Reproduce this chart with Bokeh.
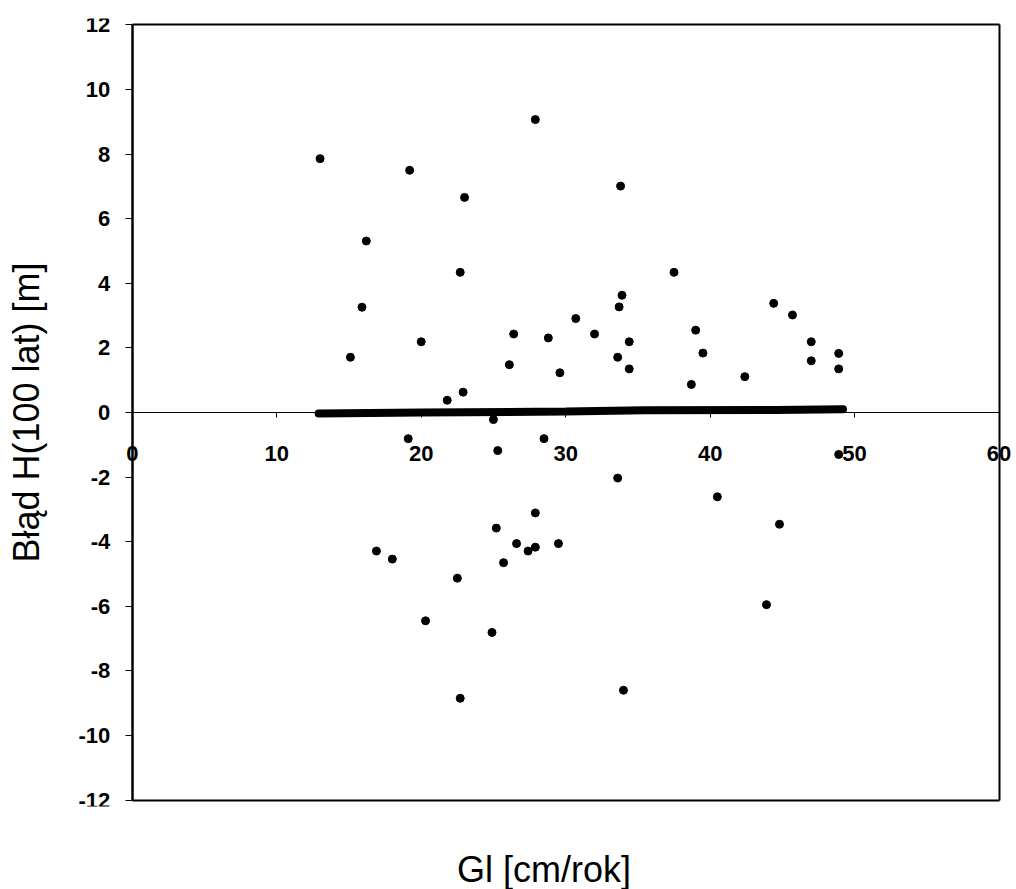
from bokeh.plotting import figure
from bokeh.models import LinearAxis, Range1d, FixedTicker
from bokeh.embed import file_html
from bokeh.resources import INLINE

# Scattered errors
gl = [13.0, 19.2, 27.9, 23.0, 33.8, 16.2, 22.7, 15.9, 33.9, 33.7, 30.7, 20.0,
      26.4, 28.8, 32.0, 34.4, 15.1, 26.1, 33.6, 34.4, 29.6, 22.9, 21.8,
      37.5, 44.4, 45.7, 39.0, 47.0, 48.9, 39.5, 47.0, 48.9, 42.4, 38.7,
      25.0, 19.1, 28.5, 25.3, 33.6, 27.9, 25.2, 26.6, 29.5, 27.9, 27.4,
      16.9, 18.0, 25.7, 22.5, 20.3, 24.9, 22.7, 34.0,
      48.9, 40.5, 44.8, 43.9]
blad = [7.86, 7.50, 9.07, 6.66, 7.01, 5.31, 4.34, 3.26, 3.63, 3.27, 2.91, 2.19,
        2.43, 2.31, 2.43, 2.19, 1.71, 1.48, 1.71, 1.35, 1.23, 0.63, 0.38,
        4.34, 3.38, 3.02, 2.55, 2.19, 1.83, 1.84, 1.60, 1.35, 1.11, 0.87,
        -0.22, -0.81, -0.81, -1.18, -2.03, -3.11, -3.58, -4.06, -4.06, -4.17, -4.29,
        -4.29, -4.54, -4.65, -5.13, -6.45, -6.81, -8.85, -8.60,
        -1.30, -2.61, -3.46, -5.95]

# Dense cluster of near-zero errors (drawn as a thick band)
band_x = [12.9, 20.0, 30.0, 35.5, 44.5, 49.2]
band_y = [-0.03, 0.0, 0.03, 0.07, 0.08, 0.10]

x_ticks = [0, 10, 20, 30, 40, 50, 60]
y_ticks = [-12, -10, -8, -6, -4, -2, 0, 2, 4, 6, 8, 10, 12]
y_tick_labels = ["-12", "-10", "-8", "-6", "-4", "-2", "0", "2", "4", "6", "8", "10", "12"]
x_min, x_max = 0, 60
y_min, y_max = -12, 12

FONT = "Liberation Sans"

p = figure(frame_width=939, frame_height=788, output_backend="svg", toolbar_location=None,
           x_range=Range1d(-4.0, 61.0), y_range=Range1d(-12.2, 12.2),
           min_border_left=74, min_border_right=3, min_border_top=18,
           min_border_bottom=83, x_axis_location=None, y_axis_location=None)
p.background_fill_color = "white"
p.border_fill_color = "white"
p.outline_line_color = None
p.xgrid.visible = False
p.ygrid.visible = False


def plain_axis(ax, width):
    ax.axis_line_color = "black"
    ax.axis_line_width = width
    ax.major_tick_line_color = None
    ax.minor_tick_line_color = None
    return ax


# y axis (left edge of the box)
ya = LinearAxis(ticker=FixedTicker(ticks=y_ticks), fixed_location=x_min,
                bounds=(y_min, y_max))
ya.major_label_overrides = {t: s for t, s in zip(y_ticks, y_tick_labels)}
ya.axis_line_width = 2.5
ya.major_tick_out = 7
ya.major_tick_in = 0
ya.minor_tick_out = 0
ya.minor_tick_in = 0
ya.major_label_text_font = FONT
ya.major_label_text_font_size = "22px"
ya.major_label_text_font_style = "bold"
ya.major_label_text_color = "black"
ya.major_label_standoff = 15
p.add_layout(ya, "left")

# y axis title
yt = LinearAxis(ticker=FixedTicker(ticks=[]), axis_label="Błąd H(100 lat) [m]")
yt.axis_line_color = None
yt.major_tick_line_color = None
yt.minor_tick_line_color = None
yt.axis_label_text_font = FONT
yt.axis_label_text_font_size = "36px"
yt.axis_label_text_font_style = "normal"
yt.axis_label_text_color = "black"
yt.axis_label_standoff = 28
p.add_layout(yt, "left")

# x axis crossing at y = 0
xa = LinearAxis(ticker=FixedTicker(ticks=x_ticks), fixed_location=0,
                bounds=(x_min, x_max))
xa.axis_line_width = 1.2
xa.major_tick_out = 5
xa.major_tick_in = 0
xa.minor_tick_out = 0
xa.minor_tick_in = 0
xa.major_label_text_font = FONT
xa.major_label_text_font_size = "22px"
xa.major_label_text_font_style = "bold"
xa.major_label_text_color = "black"
xa.major_label_standoff = 28
p.add_layout(xa, "below")

# x axis title
xt = LinearAxis(ticker=FixedTicker(ticks=[]), axis_label="Gl [cm/rok]")
xt.axis_line_color = None
xt.major_tick_line_color = None
xt.minor_tick_line_color = None
xt.axis_label_text_font = FONT
xt.axis_label_text_font_size = "36px"
xt.axis_label_text_font_style = "normal"
xt.axis_label_text_color = "black"
xt.axis_label_standoff = 42
p.add_layout(xt, "below")

# remaining edges of the plot box
top = plain_axis(LinearAxis(ticker=FixedTicker(ticks=[]), fixed_location=y_max,
                            bounds=(x_min, x_max)), 2)
bottom = plain_axis(LinearAxis(ticker=FixedTicker(ticks=[]), fixed_location=y_min,
                               bounds=(x_min, x_max)), 2)
right = plain_axis(LinearAxis(ticker=FixedTicker(ticks=[]), fixed_location=x_max,
                              bounds=(y_min, y_max)), 2)
p.add_layout(top, "above")
p.add_layout(bottom, "below")
p.add_layout(right, "right")

p.line(band_x, band_y, line_width=8, line_color="black", line_cap="round")
p.scatter(gl, blad, size=8, marker="circle", fill_color="black", line_color="black")

open("out.html", "w").write(file_html(p, INLINE))
